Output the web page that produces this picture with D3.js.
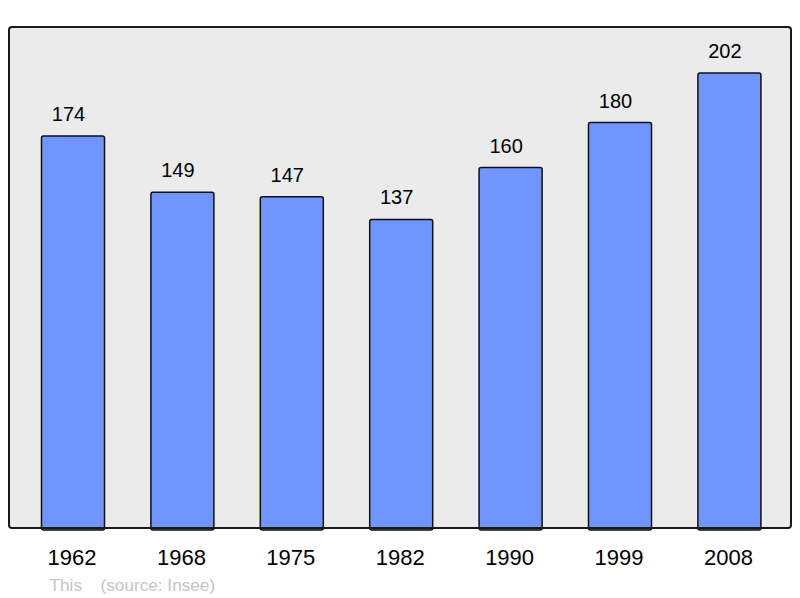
<!DOCTYPE html>
<html><head><meta charset="utf-8">
<script src="https://cdn.jsdelivr.net/npm/d3@7"></script>
<style>html,body{margin:0;padding:0;background:#fff;}svg{display:block;}</style>
</head><body>
<svg id="c" width="800" height="598"></svg>
<script>
const years = ["1962","1968","1975","1982","1990","1999","2008"];
const population = [174,149,147,137,160,180,202];
const sourceNote = "(source: Insee)";
const prefixNote = "This";

const svg = d3.select("#c");
const frame = {left:9, top:27, right:791, bottom:528};
const font = "Liberation Sans, Arial, sans-serif";

svg.append("rect")
  .attr("x", frame.left).attr("y", frame.top)
  .attr("width", frame.right-frame.left).attr("height", frame.bottom-frame.top)
  .attr("rx", 3).attr("ry", 3)
  .attr("fill", "#ebebeb").attr("stroke", "#1a1a1a").attr("stroke-width", 2);

const x = d3.scaleBand().domain(years).range([18.3, 784.1]).paddingInner(0.424).paddingOuter(0.212);
const y = d3.scaleLinear().domain([0, 222.4]).range([frame.bottom, frame.top]);

const data = years.map((yr,i)=>({year:yr, v:population[i]}));

svg.selectAll("rect.bar").data(data).enter().append("rect")
  .attr("class","bar")
  .attr("x", d=>x(d.year)).attr("y", d=>y(d.v))
  .attr("width", x.bandwidth()).attr("height", d=>frame.bottom - y(d.v) + 2)
  .attr("rx", 2).attr("ry", 2)
  .attr("fill", "#7095ff").attr("stroke", "#111").attr("stroke-width", 1.5);

svg.append("line").attr("x1", frame.left+2).attr("x2", frame.right-2)
  .attr("y1", frame.bottom).attr("y2", frame.bottom)
  .attr("stroke", "#1a1a1a").attr("stroke-width", 2);

svg.selectAll("text.val").data(data).enter().append("text")
  .attr("class","val")
  .attr("x", d=>x(d.year)+x.bandwidth()/2 - 4.5).attr("y", d=>y(d.v)-15)
  .attr("text-anchor","middle")
  .attr("font-family",font).attr("font-size", 20)
  .attr("fill","#000").text(d=>d.v);

const xAxis = d3.axisBottom(x).tickSize(0).tickPadding(0);
const ax = svg.append("g").attr("transform", `translate(0,${frame.bottom})`).call(xAxis);
ax.select(".domain").remove();
ax.selectAll("text").attr("dy", null).attr("y", 36.5).attr("dx", -1)
  .attr("font-family",font).attr("font-size", 22).attr("fill","#000");

svg.append("text").attr("x", 49.5).attr("y", 590.5)
  .attr("font-family",font).attr("font-size", 17.2)
  .attr("fill","#c4c4c4").text(prefixNote);
svg.append("text").attr("x", 100.5).attr("y", 590.5)
  .attr("font-family",font).attr("font-size", 17.2)
  .attr("fill","#c4c4c4").text(sourceNote);
</script>
</body></html>
